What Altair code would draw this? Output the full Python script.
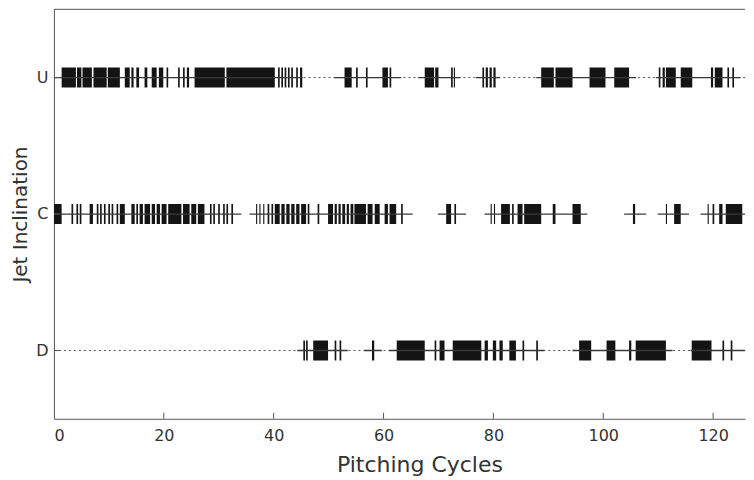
import altair as alt
import pandas as pd

rows = ["U", "C", "D"]
x_ticks = [0, 20, 40, 60, 80, 100, 120]

# event intervals [start, end] in pitching cycles
u_events = [(1.4, 4.0), (4.2, 5.0), (5.2, 6.9), (7.2, 9.6), (9.8, 12.0), (12.9, 13.8), (14.1, 14.5),
            (15.0, 15.5), (16.5, 17.0), (17.8, 18.7), (19.1, 19.9), (20.5, 20.8), (22.6, 22.9),
            (23.5, 23.8), (24.2, 24.6), (25.6, 31.1), (31.4, 40.2), (40.8, 41.1), (41.4, 41.7),
            (42.0, 42.3), (42.6, 42.9), (43.2, 43.5), (44.1, 44.4), (44.8, 45.2),
            (52.9, 54.2), (55.0, 55.3), (56.8, 57.1), (59.8, 60.8), (61.1, 61.4),
            (67.5, 69.2), (69.4, 70.0), (72.3, 72.6), (72.8, 73.0),
            (78.0, 78.3), (78.6, 79.0), (79.3, 79.7), (80.0, 80.4),
            (88.7, 91.0), (91.3, 94.4), (97.5, 100.4), (102.0, 104.7),
            (110.1, 110.4), (110.8, 111.2), (111.4, 113.2), (114.1, 116.2), (119.6, 120.0),
            (120.3, 121.7), (122.6, 122.9), (123.5, 123.8)]
c_events = [(0.0, 1.4), (3.2, 3.5), (4.1, 4.4), (4.7, 5.0), (6.5, 7.1), (7.8, 8.1), (8.4, 8.7),
            (9.1, 9.4), (9.9, 10.2), (10.5, 10.8), (11.4, 11.7), (12.0, 12.9), (14.1, 14.7),
            (15.0, 15.3), (15.6, 16.2), (16.5, 17.5), (17.8, 18.4), (18.7, 19.3), (19.6, 20.5),
            (20.8, 23.2), (23.5, 24.7), (25.0, 25.9), (26.2, 27.4), (28.4, 28.7), (29.0, 29.3),
            (29.9, 30.2), (30.8, 31.1), (31.4, 31.7), (32.3, 32.6),
            (36.8, 37.0), (37.4, 37.6), (38.1, 38.3), (38.9, 39.2), (39.6, 39.9), (40.2, 41.1),
            (41.4, 42.0), (42.3, 42.9), (43.2, 43.8), (44.1, 44.7), (45.0, 45.9), (46.2, 46.5),
            (48.0, 48.3), (49.9, 50.8), (51.1, 51.5), (51.8, 52.2), (52.5, 53.0), (53.3, 53.7),
            (54.0, 54.5), (54.7, 56.8), (57.1, 58.0), (58.4, 59.3), (60.2, 60.8), (61.1, 62.3),
            (63.2, 63.5), (71.4, 72.3), (72.9, 73.2),
            (79.5, 79.7), (80.1, 80.3), (81.4, 83.0), (83.4, 83.7), (84.4, 85.3), (85.6, 88.7),
            (90.8, 91.3), (94.4, 95.9), (105.4, 105.8), (111.4, 111.6), (112.9, 114.1),
            (119.0, 119.2), (119.9, 120.2), (121.1, 121.7), (122.3, 125.3), (125.9, 126.5)]
d_events = [(45.4, 45.7), (45.9, 46.2), (47.2, 49.9), (51.1, 51.4), (52.0, 52.3), (57.9, 58.3),
            (62.4, 67.5), (69.3, 69.6), (70.2, 71.1), (72.6, 77.8), (78.4, 79.0), (79.9, 80.5),
            (81.1, 81.7), (82.9, 84.1), (85.3, 85.6), (87.8, 88.1), (95.6, 97.8), (100.6, 102.2),
            (104.7, 105.1), (105.9, 111.4), (116.1, 119.7), (121.7, 122.0), (123.2, 123.5),
            (125.9, 126.3), (126.7, 127.1)]

# solid connecting stretches [start, end]
u_solid = [(0, 45.3), (51.0, 63.2), (66.3, 74.0), (76.8, 81.2), (87.8, 106.0), (109.6, 125.0)]
c_solid = [(0, 34.1), (35.6, 65.3), (69.9, 75.0), (78.4, 97.1), (103.8, 107.8), (109.9, 115.6),
           (117.7, 127.3)]
d_solid = [(44.3, 53.5), (56.5, 59.7), (61.0, 89.3), (94.4, 112.6), (115.9, 127.3)]

# rows with a dotted baseline
dotted_rows = ["U", "D"]

W, H = 692, 410
FONT = "DejaVu Sans"

ev = pd.DataFrame([{"row": r, "start": s, "end": e}
                   for r, lst in zip(rows, [u_events, c_events, d_events]) for s, e in lst])
seg = pd.DataFrame([{"row": r, "start": s, "end": e}
                    for r, lst in zip(rows, [u_solid, c_solid, d_solid]) for s, e in lst])
dot = pd.DataFrame({"row": dotted_rows})
rowdf = pd.DataFrame({"row": rows})
xt = pd.DataFrame({"start": x_ticks[1:]})
one = pd.DataFrame({"a": [0]})

xscale = alt.Scale(domain=[0, 125.8], nice=False, zero=False)
yscale = alt.Scale(domain=rows, paddingInner=0, paddingOuter=0)

X = alt.X("start:Q", scale=xscale, title="Pitching Cycles",
          axis=alt.Axis(values=x_ticks, tickSize=0, labelPadding=9, grid=False,
                        titlePadding=11, titleX=366, titleAlign="center"))
Y = alt.Y("row:N", sort=rows, scale=yscale, title="Jet Inclination",
          axis=alt.Axis(tickSize=0, labelPadding=6, grid=False, titlePadding=5, labelAngle=0))

bars = alt.Chart(ev).mark_bar(color="#141414", size=20, clip=True).encode(
    x=X, x2="end:Q", y=Y)

dotted = alt.Chart(dot).mark_rule(color="#555", strokeDash=[2, 3], strokeWidth=1).encode(
    x=alt.value(0), x2=alt.value(W), y=Y)

solid = alt.Chart(seg).mark_rule(color="#383838", strokeWidth=1.3, clip=True).encode(
    x=X, x2="end:Q", y=Y)

yticks = alt.Chart(rowdf).mark_rule(color="#555").encode(
    x=alt.value(0), x2=alt.value(6), y=Y)

xticks = alt.Chart(xt).mark_rule(color="#555").encode(
    x=X, y=alt.value(H), y2=alt.value(H - 6))

top = alt.Chart(one).mark_rule(color="#555").encode(
    x=alt.value(0), x2=alt.value(W), y=alt.value(0))

chart = alt.layer(bars, dotted, solid, yticks, xticks, top).properties(
    width=W, height=H, padding={"left": 2, "top": 0, "right": 0, "bottom": 0},
    background="white"
).configure_view(strokeWidth=0).configure_axis(
    labelFont=FONT, titleFont=FONT, labelFontSize=16, labelColor="#333", titleColor="#333",
    titleFontWeight="normal", domainColor="#555"
).configure_axisX(titleFontSize=22).configure_axisY(titleFontSize=20)

chart.save("out.html", embed_options={"renderer": "svg", "actions": False})
